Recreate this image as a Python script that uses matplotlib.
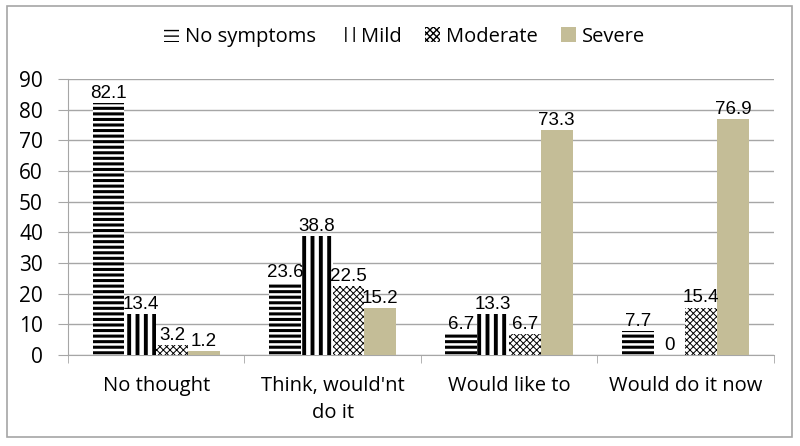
import matplotlib
matplotlib.use('Agg')
import matplotlib.pyplot as plt
import numpy as np

categories = ["No thought", "Think, would'nt\ndo it", "Would like to", "Would do it now"]
series_names = ["No symptoms", "Mild", "Moderate", "Severe"]
no_symptoms = [82.1, 23.6, 6.7, 7.7]
mild = [13.4, 38.8, 13.3, 0]
moderate = [3.2, 22.5, 6.7, 15.4]
severe = [1.2, 15.2, 73.3, 76.9]

values = [no_symptoms, mild, moderate, severe]
hatches = ['---', '||', 'xxxxx', None]
hatch_lw = [2.2, 2.8, 0.7, 1.0]
faces = ['white', 'white', 'white', '#C4BD97']

plt.rcParams['font.family'] = ['Liberation Sans', 'DejaVu Sans']
ui_font = ['Open Sans', 'DejaVu Sans']

fig = plt.figure(figsize=(8, 4.46), dpi=100)
ax = fig.add_axes([0.085, 0.204, 0.882, 0.619])

x = np.arange(len(categories))
w = 0.18
for i, (name, vals) in enumerate(zip(series_names, values)):
    with plt.rc_context({'hatch.linewidth': hatch_lw[i]}):
        bars = ax.bar(x + (i - 1.5) * w, vals, w, label=name,
                      facecolor=faces[i], edgecolor='black' if hatches[i] else faces[i],
                      hatch=hatches[i], linewidth=0, zorder=3)
        for b in bars:
            if hasattr(b, 'set_hatch_linewidth'):
                b.set_hatch_linewidth(hatch_lw[i])
    ax.bar_label(bars, labels=[f'{v:g}' for v in vals], fontsize=13.5, padding=1, zorder=4)

ax.set_ylim(0, 90)
ax.set_yticks(range(0, 91, 10))
ax.set_xlim(-0.5, 3.5)
ax.yaxis.grid(True, color='#a6a6a6', linewidth=1, zorder=0)
ax.set_axisbelow(True)
for s in ['top', 'right']:
    ax.spines[s].set_visible(False)
ax.spines['left'].set_color('#a6a6a6')
ax.spines['bottom'].set_color('#a6a6a6')

ax.set_xticks(x)
ax.set_xticklabels(categories, fontfamily=ui_font, fontsize=14.5, linespacing=1.45)
ax.set_xticks(np.arange(-0.5, 4.0, 1.0), minor=True)
ax.tick_params(axis='x', which='major', length=0, pad=15)
ax.tick_params(axis='x', which='minor', length=6, color='#a6a6a6')
ax.tick_params(axis='y', length=7, color='#a6a6a6', labelsize=15, pad=11)
for t in ax.get_yticklabels():
    t.set_fontfamily(ui_font)

leg = ax.legend(loc='upper center', bbox_to_anchor=(0.477, 1.255), ncol=4, frameon=False,
                prop={'family': ui_font, 'size': 14.5},
                handlelength=0.75, handleheight=0.75, handletextpad=0.3, columnspacing=1.15)

fig.patches.append(plt.Rectangle((0.00875, 0.0202), 0.981, 0.966, transform=fig.transFigure,
                                 fill=False, edgecolor='#a6a6a6', linewidth=1.2))

fig.savefig('out.png', dpi=100)
